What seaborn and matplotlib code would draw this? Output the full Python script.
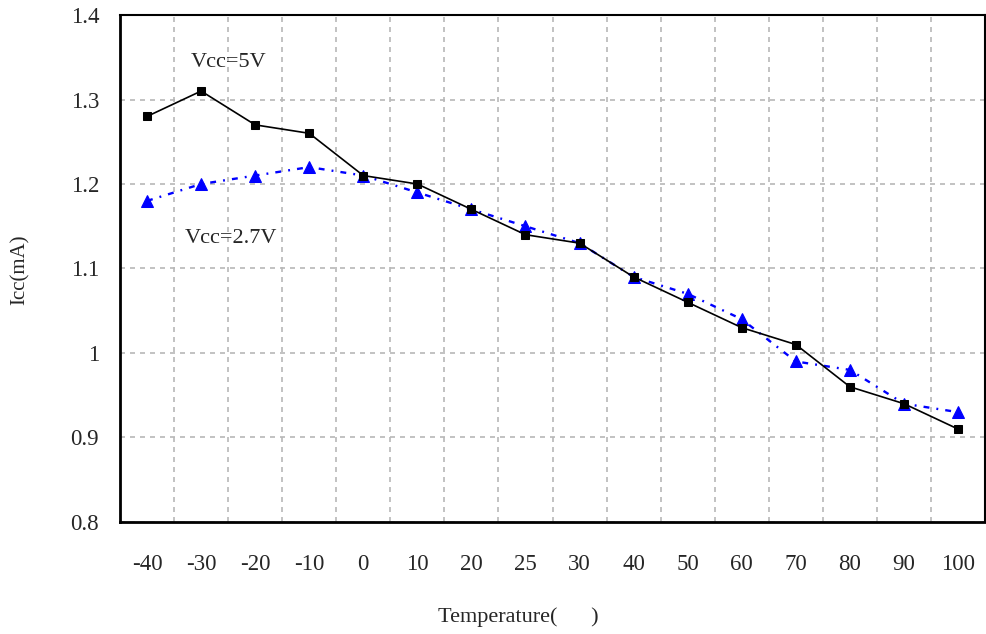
import numpy as np
import pandas as pd
import matplotlib
matplotlib.use("Agg")
import matplotlib.pyplot as plt
import seaborn as sns

# 데이터
temps = ["-40", "-30", "-20", "-10", "0", "10", "20", "25", "30",
         "40", "50", "60", "70", "80", "90", "100"]
icc_5v = [1.28, 1.31, 1.27, 1.26, 1.21, 1.20, 1.17, 1.14, 1.13,
          1.09, 1.06, 1.03, 1.01, 0.96, 0.94, 0.91]
icc_27v = [1.18, 1.20, 1.21, 1.22, 1.21, 1.19, 1.17, 1.15, 1.13,
           1.09, 1.07, 1.04, 0.99, 0.98, 0.94, 0.93]

sns.set_style("white")
plt.rcParams["font.family"] = ["Liberation Serif", "DejaVu Serif"]

df = pd.DataFrame({"temp": temps, "v5": icc_5v, "v27": icc_27v})

fig = plt.figure(figsize=(9.87, 6.34), dpi=100)
ax = fig.add_axes([0.1216, 0.1767, 0.8764, 0.7996])

sns.lineplot(data=df, x="temp", y="v27", sort=False, ax=ax, color="blue",
             linewidth=1.7, marker="^", markersize=8, markeredgecolor="blue")
ax.lines[-1].set_linestyle((0, (2.5, 3, 0.8, 3)))
sns.lineplot(data=df, x="temp", y="v5", sort=False, ax=ax, color="black",
             linewidth=1.2, marker="s", markersize=6, markeredgecolor="black")

n = len(temps)
ax.set_xlim(-0.5, n - 0.5)
ax.set_ylim(0.8, 1.4)
ax.set_yticks(np.arange(0.8, 1.41, 0.1))
ax.set_yticklabels(["0.8", "0.9", "1", "1.1", "1.2", "1.3", "1.4"])
ax.set_xticks(range(n))
ax.set_xticklabels(temps)
ax.set_xticks(np.arange(0.5, n - 1, 1.0), minor=True)

ax.grid(True, which="minor", axis="x", color="#b8b8b8", linestyle=(0, (3, 3)), linewidth=1.2)
ax.grid(True, which="major", axis="y", color="#b8b8b8", linestyle=(0, (3, 3)), linewidth=1.2)
ax.grid(False, which="major", axis="x")

ax.tick_params(axis="x", which="major", length=0, pad=23, labelsize=16.5)
ax.tick_params(axis="x", which="minor", direction="in", length=5, color="#b8b8b8", width=1)
ax.tick_params(axis="y", which="major", direction="out", length=6, width=1.2, labelsize=16.5, pad=9)

for s in ax.spines.values():
    s.set_visible(True)
    s.set_color("black")
    s.set_linewidth(1.5)
ax.spines["left"].set_linewidth(2)
ax.spines["bottom"].set_linewidth(2)

ax.set_xlabel("Temperature(      )", fontsize=16)
ax.set_ylabel("Icc(mA)", fontsize=15)
ax.xaxis.set_label_coords(0.46, -0.187)
ax.xaxis.label.set_va("center")
ax.yaxis.set_label_coords(-0.1156, 0.497)
ax.yaxis.label.set_va("center")

ax.text(1.5, 1.344, "Vcc=5V", fontsize=16, ha="center", va="center")
ax.text(1.55, 1.136, "Vcc=2.7V", fontsize=16, ha="center", va="center")

fig.savefig("out.png", dpi=100)
